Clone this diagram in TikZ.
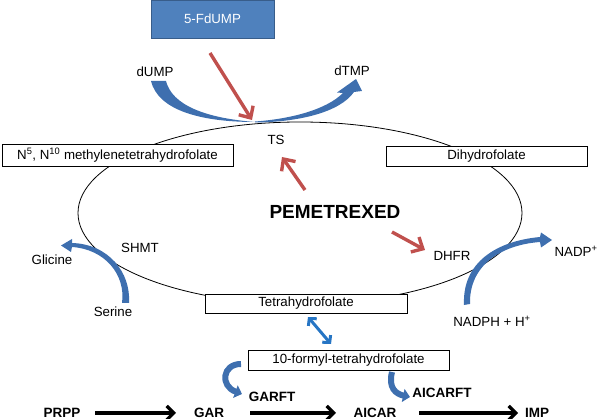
\documentclass[tikz,border=0pt]{standalone}
\usepackage{fontspec}
\setmainfont{Liberation Sans}
\usetikzlibrary{arrows.meta}
\definecolor{fdblue}{RGB}{79,129,189}
\definecolor{fdborder}{RGB}{56,93,138}
\definecolor{cblue}{RGB}{62,111,175}
\definecolor{dblue}{RGB}{38,117,196}
\definecolor{ired}{RGB}{192,80,77}
\begin{document}
\begin{tikzpicture}[x=1pt,y=-1pt,
  every node/.style={font=\fontsize{13.3}{15}\selectfont, inner sep=0pt},
  boxnode/.style={draw, fill=white, line width=0.8pt, minimum width=#1, minimum height=20pt},
  blbl/.style={font=\fontsize{13.5}{15}\selectfont\bfseries},
  redarr/.style={ired, line width=3.4pt, -{Straight Barb[length=9pt,width=17pt]}},
  blkarr/.style={black, line width=3.2pt, -{Straight Barb[length=7pt,width=14pt]}},
  dblarr/.style={dblue, line width=3pt, {Straight Barb[length=5pt,width=11pt]}-{Straight Barb[length=5pt,width=11pt]}},
  curvarr/.style={cblue, line width=6pt, -{Triangle[length=7pt,width=13pt]}},
  bluefill/.style={fill=cblue, draw=none}]
\useasboundingbox (0,0) rectangle (598,419);

% cycle ellipse
\draw[line width=0.8pt] (300,213) ellipse [x radius=222, y radius=91];

% curved blue arrows (filled shapes)
\fill[bluefill] (151,81) .. controls (158,110) and (200,122) .. (255,122)
  .. controls (205,118) and (172,105) .. (166,81) -- cycle;
\fill[bluefill] (255,121.5) .. controls (290,119) and (326,110) .. (343,93)
  -- (337,92.5) -- (356,79) -- (362,91) -- (354,92)
  .. controls (340,112) and (300,122) .. (255,122.5) -- cycle;
\fill[bluefill] (129,303) .. controls (131,272) and (108,244) .. (72,243)
  -- (72,239) -- (61,245.5) -- (71,252) -- (72,247)
  .. controls (104,249) and (126,274) .. (122,303) -- cycle;
\fill[bluefill] (464,305) .. controls (462,262) and (497,241) .. (540,237)
  -- (541,232.5) -- (552,240) -- (541,247.5) -- (540,242)
  .. controls (500,245) and (469,266) .. (470,304) -- cycle;

% boxes
\node[draw=fdborder, fill=fdblue, line width=0.8pt, minimum width=123pt, minimum height=38pt, text=white] (fdump) at (212.5,19) {5-FdUMP};
\node[boxnode=231pt, minimum height=22pt] (meth) at (117.5,155) {N\textsuperscript{5}, N\textsuperscript{10} methylenetetrahydrofolate};
\node[boxnode=201pt] (dhf) at (486.5,156) {Dihydrofolate};
\node[boxnode=202pt, minimum height=19pt] (thf) at (306,303.5) {Tetrahydrofolate};
\node[boxnode=201pt] (fthf) at (348.5,360) {10-formyl-tetrahydrofolate};

% labels
\node (dump) at (155,72) {dUMP};
\node (dtmp) at (352,71) {dTMP};
\node (ts) at (276,140) {TS};
\node[font=\fontsize{19}{22}\selectfont\bfseries] (pem) at (335,212) {PEMETREXED};
\node (dhfr) at (452,256) {DHFR};
\node (shmt) at (140,248) {SHMT};
\node (gli) at (52,260) {Glicine};
\node (ser) at (113,312) {Serine};
\node (nadp) at (576,251) {NADP\textsuperscript{+}};
\node (nadph) at (492,321) {NADPH + H\textsuperscript{+}};
\node[blbl] (prpp) at (62,413) {PRPP};
\node[blbl] (gar) at (209,413) {GAR};
\node[blbl] (garft) at (272,397) {GARFT};
\node[blbl] (aicar) at (375,413) {AICAR};
\node[blbl] (aicarft) at (442,393) {AICARFT};
\node[blbl] (imp) at (537,413) {IMP};

% red inhibition arrows
\coordinate (r1s) at (210,53);  \coordinate (r1e) at (252,120);
\coordinate (r2s) at (305,190); \coordinate (r2e) at (282,157);
\coordinate (r3s) at (392,232); \coordinate (r3e) at (425,250);
\draw[redarr] (r1s) -- (r1e);
\draw[redarr] (r2s) -- (r2e);
\draw[redarr] (r3s) -- (r3e);

% black pathway arrows
\coordinate (b1s) at (95,413);  \coordinate (b1e) at (176,413);
\coordinate (b2s) at (250,413); \coordinate (b2e) at (336,413);
\coordinate (b3s) at (419,413); \coordinate (b3e) at (518,413);
\draw[blkarr] (b1s) -- (b1e);
\draw[blkarr] (b2s) -- (b2e);
\draw[blkarr] (b3s) -- (b3e);

% double arrow THF <-> 10-formyl-THF
\coordinate (d1) at (308,317); \coordinate (d2) at (331,344);
\draw[dblarr] (d1) -- (d2);

% GARFT and AICARFT curved arrows
\coordinate (g1) at (241,364); \coordinate (g2) at (242,394);
\draw[curvarr] (g1) .. controls (222,364) and (220,386) .. (g2);
\coordinate (a1) at (392,372); \coordinate (a2) at (410,397);
\draw[curvarr] (a1) .. controls (388,388) and (396,394) .. (a2);
\end{tikzpicture}
\end{document}
